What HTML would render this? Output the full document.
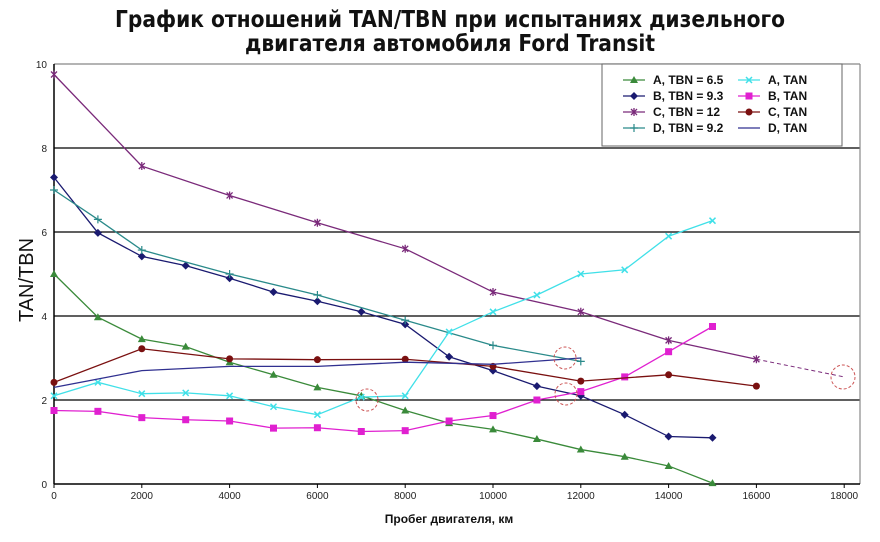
<!DOCTYPE html>
<html><head><meta charset="utf-8"><style>
body{margin:0;background:#fff;width:880px;height:537px;overflow:hidden}
svg{font-family:"Liberation Sans",sans-serif}
</style></head><body>
<svg id="s" width="880" height="537" xmlns="http://www.w3.org/2000/svg">
<text x="450" y="27" font-size="23" font-weight="bold" text-anchor="middle" fill="#111" font-family="DejaVu Sans, sans-serif" textLength="670" lengthAdjust="spacingAndGlyphs">График отношений TAN/TBN при испытаниях дизельного</text>
<text x="450" y="51" font-size="23" font-weight="bold" text-anchor="middle" fill="#111" font-family="DejaVu Sans, sans-serif" textLength="410" lengthAdjust="spacingAndGlyphs">двигателя автомобиля Ford Transit</text>
<g stroke="#000" stroke-width="1.2">
<line x1="54" y1="400" x2="860" y2="400"/><line x1="54" y1="316" x2="860" y2="316"/>
<line x1="54" y1="232" x2="860" y2="232"/><line x1="54" y1="148" x2="860" y2="148"/>
<line x1="54" y1="64" x2="860" y2="64" stroke="#888"/>
<line x1="860" y1="64" x2="860" y2="484" stroke="#888"/>
<line x1="54" y1="64" x2="54" y2="484" stroke-width="1.5"/>
<line x1="54" y1="484" x2="860" y2="484" stroke-width="1.5"/>
</g>
<g font-size="10" fill="#222" text-anchor="end">
<text x="47" y="488">0</text><text x="47" y="404">2</text><text x="47" y="320">4</text><text x="47" y="236">6</text><text x="47" y="152">8</text><text x="47" y="68">10</text>
</g>
<g id="xt" font-size="10" fill="#222" text-anchor="middle"></g>
<text x="449" y="523" font-size="12" text-anchor="middle" fill="#111" font-weight="bold">Пробег двигателя, км</text>
<text transform="translate(33,280) rotate(-90)" font-size="20" text-anchor="middle" fill="#111">TAN/TBN</text>
<g id="d"></g>
<g fill="none" stroke="#c55" stroke-dasharray="3,2" stroke-width="1">
<circle cx="367" cy="400" r="11"/><circle cx="565" cy="358" r="11"/><circle cx="566" cy="394" r="11"/><circle cx="843" cy="377" r="12"/>
</g>
<rect x="602" y="64" width="240" height="82" fill="#fff" stroke="#666"/>
<g id="lg" font-size="12" font-weight="bold" fill="#111"></g>
</svg>
<script>
const X=k=>54+k*0.0439, Y=v=>484-42*v, NS="http://www.w3.org/2000/svg";
function el(p,t,a){const e=document.createElementNS(NS,t);for(const k in a)e.setAttribute(k,a[k]);p.appendChild(e);return e;}
const xt=document.getElementById('xt');
for(let k=0;k<=18000;k+=2000){const t=el(xt,'text',{x:X(k),y:499});t.textContent=k;el(document.getElementById('s'),'line',{x1:X(k),y1:484,x2:X(k),y2:488,stroke:'#000'});}
const s1=[0,1000,2000,3000,4000,5000,6000,7000,8000,9000,10000,11000,12000,13000,14000,15000];
const s2=[0,2000,4000,6000,8000,10000,12000,14000,16000];
const series=[
{n:'A, TBN = 6.5',c:'#3a8a3a',m:'tri',x:s1,y:[5.0,3.97,3.45,3.27,2.9,2.6,2.3,2.1,1.75,1.45,1.3,1.07,0.82,0.65,0.43,0.02]},
{n:'B, TBN = 9.3',c:'#1a1a70',m:'dia',x:s1,y:[7.3,5.98,5.42,5.2,4.9,4.57,4.35,4.1,3.8,3.03,2.7,2.33,2.1,1.65,1.13,1.1]},
{n:'C, TBN = 12',c:'#7a2a7a',m:'ast',x:s2,y:[9.75,7.57,6.87,6.22,5.6,4.57,4.1,3.42,2.97]},
{n:'D, TBN = 9.2',c:'#2a8a8a',m:'plus',x:[0,1000,2000,4000,6000,8000,10000,12000],y:[7.0,6.3,5.57,5.0,4.5,3.9,3.3,2.92]},
{n:'A, TAN',c:'#40e0e8',m:'x',x:s1,y:[2.1,2.42,2.15,2.17,2.1,1.84,1.65,2.07,2.1,3.62,4.1,4.5,5.0,5.1,5.9,6.27]},
{n:'B, TAN',c:'#e020d0',m:'sq',x:s1,y:[1.75,1.73,1.58,1.53,1.5,1.33,1.34,1.25,1.27,1.5,1.63,2.0,2.2,2.55,3.15,3.75]},
{n:'C, TAN',c:'#7a1010',m:'circ',x:s2,y:[2.42,3.22,2.98,2.96,2.97,2.8,2.45,2.6,2.33]},
{n:'D, TAN',c:'#303090',m:'none',x:[0,2000,4000,6000,8000,10000,12000],y:[2.3,2.7,2.8,2.8,2.9,2.85,3.0]}];
function mk(g,m,c,x,y){
 if(m=='tri')el(g,'polygon',{points:`${x},${y-4} ${x-4},${y+3} ${x+4},${y+3}`,fill:c});
 else if(m=='dia')el(g,'polygon',{points:`${x},${y-4} ${x+4},${y} ${x},${y+4} ${x-4},${y}`,fill:c});
 else if(m=='sq')el(g,'rect',{x:x-3.5,y:y-3.5,width:7,height:7,fill:c});
 else if(m=='circ')el(g,'circle',{cx:x,cy:y,r:3.5,fill:c});
 else if(m=='plus'){el(g,'path',{d:`M${x-4} ${y}h8M${x} ${y-4}v8`,stroke:c,'stroke-width':1.2});}
 else if(m=='x'){el(g,'path',{d:`M${x-3} ${y-3}l6 6M${x+3} ${y-3}l-6 6`,stroke:c,'stroke-width':1.5});}
 else if(m=='ast'){el(g,'path',{d:`M${x-3} ${y-3}l6 6M${x+3} ${y-3}l-6 6M${x} ${y-4}v8`,stroke:c,'stroke-width':1.3});}
}
const d=document.getElementById('d');
el(d,'line',{x1:X(16000),y1:Y(2.97),x2:X(18000),y2:Y(2.55),stroke:'#7a2a7a','stroke-dasharray':'4,3'});
series.forEach(S=>{
 el(d,'polyline',{points:S.x.map((k,i)=>X(k)+','+Y(S.y[i])).join(' '),fill:'none',stroke:S.c,'stroke-width':1.3});
 S.x.forEach((k,i)=>mk(d,S.m,S.c,X(k),Y(S.y[i])));
});
const lg=document.getElementById('lg');
series.forEach((S,i)=>{
 const col=i<4?0:1,row=i%4,x0=col?738:623,y0=80+row*16;
 el(lg,'line',{x1:x0,y1:y0,x2:x0+22,y2:y0,stroke:S.c,'stroke-width':1.3});
 mk(lg,S.m,S.c,x0+11,y0);
 const t=el(lg,'text',{x:x0+30,y:y0+4});t.textContent=S.n;
});
</script>
</body></html>
